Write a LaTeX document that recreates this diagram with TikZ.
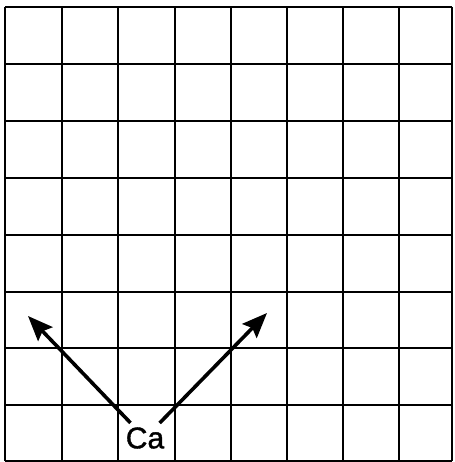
\documentclass[tikz,border=0pt]{standalone}
\usepackage{fontspec}
\setmainfont{Liberation Sans}
\newfontfamily\lblfont[FakeBold=1.2]{Liberation Sans}
\usetikzlibrary{arrows.meta}
\begin{document}
\begin{tikzpicture}[x=1pt,y=-1pt,
  gridline/.style={line width=1.7pt,black},
  arr/.style={line width=3.6pt,-{Stealth[length=25pt,width=20pt,inset=4pt]}},
  lbl/.style={inner sep=1pt,font=\lblfont\fontsize{30}{32}\selectfont}]
\useasboundingbox (0,0) rectangle (454,462);
\foreach \x in {5,62,118,175,231,287,343,399,452}
  \draw[gridline] (\x,7) -- (\x,461);
\foreach \y in {7,64,121,178,235,292,348,405,461}
  \draw[gridline] (5,\y) -- (452,\y);
\node[lbl,fill=white] (ca) at (145,438) {Ca};
\coordinate (lt) at (28,316);
\coordinate (rt) at (267,313);
\draw[arr,shorten <=21pt] (ca.center) -- (lt);
\draw[arr,shorten <=21pt] (ca.center) -- (rt);
\end{tikzpicture}
\end{document}
